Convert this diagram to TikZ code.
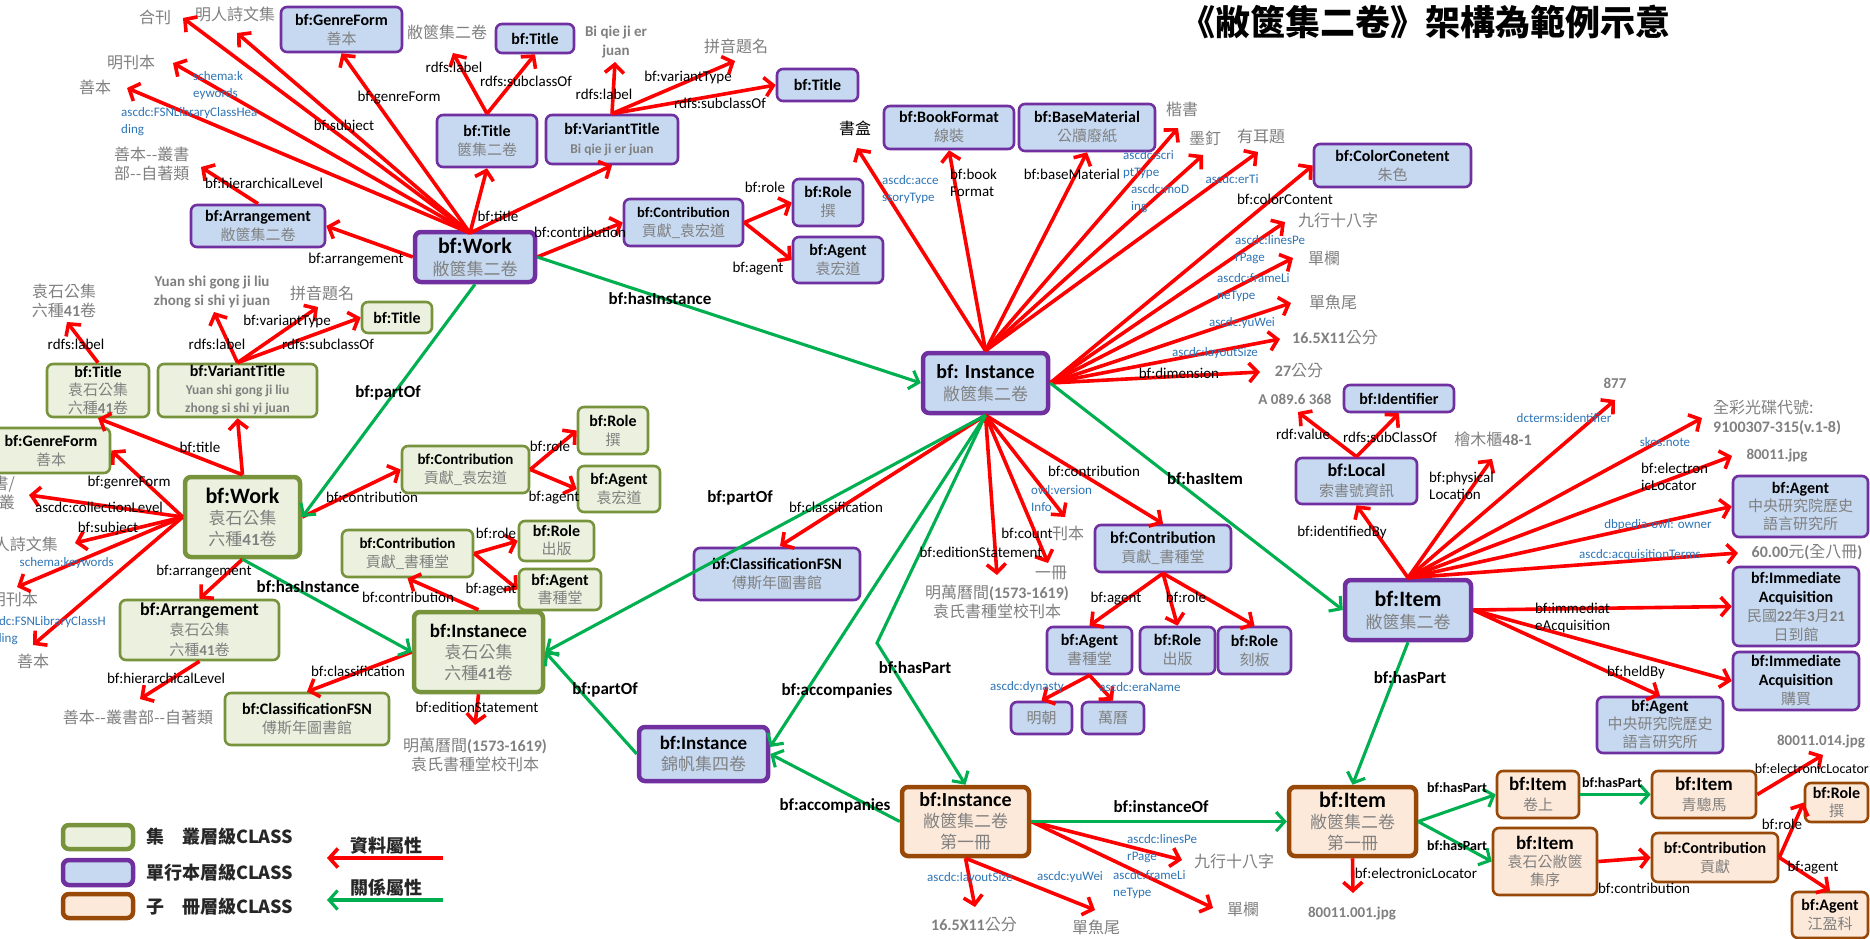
\documentclass[tikz,border=0pt]{standalone}
\usepackage{fontspec}
\setmainfont{Carlito}
\newfontfamily\cjk{Noto Sans CJK TC}
\usetikzlibrary{arrows.meta}
\definecolor{pborder}{HTML}{7030A0}
\definecolor{pfill}{HTML}{C6D9F1}
\definecolor{gborder}{HTML}{77933C}
\definecolor{gfill}{HTML}{EBF1DE}
\definecolor{oborder}{HTML}{984807}
\definecolor{ofill}{HTML}{FDE9D9}
\definecolor{rline}{HTML}{FF0000}
\definecolor{gline}{HTML}{00B050}
\definecolor{bltxt}{HTML}{2E75B6}
\definecolor{gval}{HTML}{808080}
\newcommand\fs[2]{\fontsize{#1}{#2}\selectfont}
\newcommand\lt[1]{{\normalfont\bfseries #1}}
\newcommand\vz[1]{{\cjk\mdseries\fs{15}{19}\color{gval}#1}}
\newcommand\vb[1]{{\cjk\mdseries\fs{17}{21}\color{gval}#1}}
\newcommand\vl[1]{{\normalfont\bfseries\fs{13.5}{19}\color{gval}#1}}
\begin{document}
\begin{tikzpicture}[x=1pt,y=-1pt,
  box/.style={rounded corners=6pt, inner sep=0pt, align=center, font=\bfseries\fs{16}{19}},
  pbox/.style={box, draw=pborder, fill=pfill, line width=2.6pt},
  gbox/.style={box, draw=gborder, fill=gfill, line width=2.6pt},
  obox/.style={box, draw=oborder, fill=ofill, line width=2.6pt},
  thickbox/.style={line width=4.5pt},
  bigf/.style={font=\bfseries\fs{22}{22}},
  ra/.style={draw=rline, line width=3.6pt, -{Straight Barb[length=8.5pt,width=19pt]}},
  ga/.style={draw=gline, line width=3.1pt, -{Straight Barb[length=8.5pt,width=19pt]}},
  lbl/.style={inner sep=0pt, font=\fs{15}{17}, text=black},
  rel/.style={inner sep=0pt, font=\bfseries\fs{17}{19}, text=black},
  srel/.style={inner sep=0pt, font=\bfseries\fs{14}{17}, text=black},
  blu/.style={inner sep=0pt, font=\fs{13}{17}, text=bltxt, align=left},
  gz/.style={inner sep=0pt, font=\cjk\fs{16}{19}, text=gval, align=center},
  gl/.style={inner sep=0pt, font=\bfseries\fs{15}{19}, text=gval, align=center},
]
\useasboundingbox (0,0) rectangle (1870,939);
\fill[white] (0,0) rectangle (1870,939);

% ---------- title ----------
\node[inner sep=0pt, font=\cjk\bfseries\fs{35}{40}] (title) at (1425,22) {《敝篋集二卷》架構為範例示意};

% ---------- purple boxes ----------
\node[pbox, minimum width=121pt, minimum height=45pt] (genre1) at (341.5,29.5) {bf:GenreForm\\\vz{善本}};
\node[pbox, minimum width=78pt, minimum height=29pt] (titleA) at (535,38.5) {bf:Title};
\node[pbox, minimum width=100pt, minimum height=52pt] (titleB) at (487,141) {bf:Title\\\vz{篋集二卷}};
\node[pbox, minimum width=132pt, minimum height=49pt] (vtitle1) at (612,139.5) {bf:VariantTitle\\\vl{Bi qie ji er juan}};
\node[pbox, minimum width=81pt, minimum height=32pt] (titleC) at (817.5,85) {bf:Title};
\node[pbox, minimum width=119pt, minimum height=47pt, font=\bfseries\fs{14.5}{19}] (contrib1) at (683.5,222.5) {bf:Contribution\\\vz{貢獻\_袁宏道}};
\node[pbox, minimum width=70pt, minimum height=47pt] (role1) at (828,202.5) {bf:Role\\\vz{撰}};
\node[pbox, minimum width=90pt, minimum height=46pt] (agent1) at (838,260) {bf:Agent\\\vz{袁宏道}};
\node[pbox, minimum width=134pt, minimum height=42pt] (arr1) at (258,226) {bf:Arrangement\\\vz{敝篋集二卷}};
\node[pbox, thickbox, bigf, minimum width=120pt, minimum height=50pt] (work1) at (475,257) {bf:Work\\\vb{敝篋集二卷}};
\node[pbox, minimum width=130pt, minimum height=43pt] (bookfmt) at (949,127.5) {bf:BookFormat\\\vz{線裝}};
\node[pbox, minimum width=136pt, minimum height=47pt] (basemat) at (1087,127.5) {bf:BaseMaterial\\\vz{公牘廢紙}};
\node[pbox, minimum width=157pt, minimum height=43pt] (color) at (1392.5,165.5) {bf:ColorConetent\\\vz{朱色}};
\node[pbox, thickbox, font=\bfseries\fs{20}{22}, minimum width=125pt, minimum height=60pt] (inst1) at (985.5,383) {bf: Instance\\\vb{敝篋集二卷}};
\node[pbox, minimum width=166pt, minimum height=52pt] (classfsn1) at (777,574) {bf:ClassificationFSN\\\vz{傅斯年圖書館}};
\node[pbox, minimum width=136pt, minimum height=47pt, font=\bfseries\fs{16.5}{19}] (contrib2) at (1163,548.5) {bf:Contribution\\\vz{貢獻\_書種堂}};
\node[pbox, minimum width=85pt, minimum height=47pt] (agent2) at (1089.5,650.5) {bf:Agent\\\vz{書種堂}};
\node[pbox, minimum width=75pt, minimum height=47pt] (role2) at (1177.5,650.5) {bf:Role\\\vz{出版}};
\node[pbox, minimum width=73pt, minimum height=47pt] (role3) at (1254.5,650.5) {bf:Role\\\vz{刻板}};
\node[pbox, minimum width=61pt, minimum height=32pt] (ming) at (1041.5,718) {\vz{明朝}};
\node[pbox, minimum width=62pt, minimum height=32pt] (wanli) at (1113,718) {\vz{萬曆}};
\node[pbox, thickbox, font=\bfseries\fs{19}{21}, minimum width=129pt, minimum height=54pt] (inst2) at (703.5,754) {bf:Instance\\\vb{錦帆集四卷}};
\node[pbox, minimum width=110pt, minimum height=27pt] (ident) at (1399,398.5) {bf:Identifier};
\node[pbox, minimum width=121pt, minimum height=46pt, font=\bfseries\fs{18}{20}] (local) at (1356.5,481) {bf:Local\\\vz{索書號資訊}};
\node[pbox, thickbox, bigf, minimum width=126pt, minimum height=60pt] (item1) at (1408,610) {bf:Item\\\vb{敝篋集二卷}};
\node[pbox, minimum width=135pt, minimum height=61pt, font=\bfseries\fs{16}{18}] (agent3) at (1800.5,506.5) {bf:Agent\\\vz{中央研究院歷史}\\\vz{語言研究所}};
\node[pbox, minimum width=126pt, minimum height=79pt, font=\bfseries\fs{16}{19}] (immacq1) at (1796,606.5) {bf:Immediate\\Acquisition\\\vz{民國\lt{22}年\lt{3}月\lt{21}}\\\vz{日到館}};
\node[pbox, minimum width=126pt, minimum height=58pt, font=\bfseries\fs{16}{19}] (immacq2) at (1796,681) {bf:Immediate\\Acquisition\\\vz{購買}};
\node[pbox, minimum width=126pt, minimum height=56pt, font=\bfseries\fs{16}{18}] (agent4) at (1660,725) {bf:Agent\\\vz{中央研究院歷史}\\\vz{語言研究所}};

% ---------- green boxes ----------
\node[gbox, thickbox, font=\bfseries\fs{22}{21}, minimum width=115pt, minimum height=80pt] (work2) at (242.5,517) {bf:Work\\\vb{袁石公集}\\\vb{六種\lt{41}卷}};
\node[gbox, minimum width=102pt, minimum height=53pt, font=\bfseries\fs{16}{18}] (title2) at (98,390.5) {bf:Title\\\vz{袁石公集}\\\vz{六種\lt{41}卷}};
\node[gbox, minimum width=159pt, minimum height=53pt, font=\bfseries\fs{16}{18}] (vtitle2) at (237.5,390.5) {bf:VariantTitle\\\vl{Yuan shi gong ji liu}\\\vl{zhong si shi yi juan}};
\node[gbox, minimum width=70pt, minimum height=31pt] (title3) at (397,317.5) {bf:Title};
\node[gbox, minimum width=118pt, minimum height=45pt] (genre2) at (51,450.5) {bf:GenreForm\\\vz{善本}};
\node[gbox, minimum width=127pt, minimum height=47pt, font=\bfseries\fs{15}{19}] (contrib3) at (465.5,469.5) {bf:Contribution\\\vz{貢獻\_袁宏道}};
\node[gbox, minimum width=70pt, minimum height=47pt] (role4) at (613,430.5) {bf:Role\\\vz{撰}};
\node[gbox, minimum width=82pt, minimum height=46pt] (agent5) at (619,489) {bf:Agent\\\vz{袁宏道}};
\node[gbox, minimum width=131pt, minimum height=47pt, font=\bfseries\fs{15}{19}] (contrib4) at (407.5,553.5) {bf:Contribution\\\vz{貢獻\_書種堂}};
\node[gbox, minimum width=75pt, minimum height=40pt, font=\bfseries\fs{16}{18}] (role5) at (556.5,541) {bf:Role\\\vz{出版}};
\node[gbox, minimum width=82pt, minimum height=41pt, font=\bfseries\fs{16}{18}] (agent6) at (560,589.5) {bf:Agent\\\vz{書種堂}};
\node[gbox, minimum width=159pt, minimum height=60pt, font=\bfseries\fs{18}{20}] (arr2) at (199.5,630) {bf:Arrangement\\\vz{袁石公集}\\\vz{六種\lt{41}卷}};
\node[gbox, thickbox, font=\bfseries\fs{19}{21}, minimum width=129pt, minimum height=80pt] (inst4) at (478.5,652) {bf:Instanece\\\vb{袁石公集}\\\vb{六種\lt{41}卷}};
\node[gbox, minimum width=164pt, minimum height=52pt] (classfsn2) at (307,719) {bf:ClassificationFSN\\\vz{傅斯年圖書館}};

% ---------- brown boxes ----------
\node[obox, thickbox, font=\bfseries\fs{20}{21}, minimum width=127pt, minimum height=69pt] (inst3) at (965.5,821.5) {bf:Instance\\\vb{敝篋集二卷}\\\vb{第一冊}};
\node[obox, thickbox, font=\bfseries\fs{22}{21}, minimum width=127pt, minimum height=69pt] (item2) at (1352.5,821.5) {bf:Item\\\vb{敝篋集二卷}\\\vb{第一冊}};
\node[obox, minimum width=82pt, minimum height=47pt, font=\bfseries\fs{19}{20}] (item3) at (1538,794.5) {bf:Item\\\vz{卷上}};
\node[obox, minimum width=104pt, minimum height=47pt, font=\bfseries\fs{19}{20}] (item4) at (1704,794.5) {bf:Item\\\vz{青驄馬}};
\node[obox, minimum width=104pt, minimum height=67pt, font=\bfseries\fs{19}{18}] (item5) at (1545,861.5) {bf:Item\\\vz{袁石公敝篋}\\\vz{集序}};
\node[obox, minimum width=126pt, minimum height=49pt] (contrib5) at (1715,857.5) {bf:Contribution\\\vz{貢獻}};
\node[obox, minimum width=63pt, minimum height=39pt, font=\bfseries\fs{16}{18}] (role6) at (1836.5,802.5) {bf:Role\\\vz{撰}};
\node[obox, minimum width=76pt, minimum height=46pt] (agent7) at (1830,915) {bf:Agent\\\vz{江盈科}};

% ---------- loose texts (values) ----------
\node[gz] (tHeKan) at (155,17) {合刊};
\node[gz] (tMingRen) at (235,14) {明人詩文集};
\node[gz] (tMingKan) at (131,62) {明刊本};
\node[gz] (tShanBen) at (95,87) {善本};
\node[gz, align=left, anchor=west] (tCongShu) at (114,164) {善本--叢書\\部--自著類};
\node[gz] (tBiqie) at (447,32) {敝篋集二卷};
\node[gl] (tBiqieEn) at (616,42) {Bi qie ji er\\juan};
\node[gz] (tPinyin) at (736,46) {拼音題名};
\node[gz, text=black] (tShuHe) at (855,128) {書盒};
\node[gz] (tKaiShu) at (1182,109) {楷書};
\node[gz] (tMoDing) at (1205,138) {墨釘};
\node[gz] (tYouEr) at (1261,136) {有耳題};
\node[gz] (tJiuHang) at (1338,220) {九行十八字};
\node[gz] (tDanLan) at (1324,258) {單欄};
\node[gz] (tDanYu) at (1333,302) {單魚尾};
\node[gz] (tSize) at (1335,338) {\lt{16.5X11}公分};
\node[gz] (tDim) at (1299,371) {\lt{27}公分};
\node[gz] (tKanBen) at (1068,533) {刊本};
\node[gz] (tYiCe) at (1051,573) {一冊};
\node[gz] (tEdition) at (997,602) {明萬曆間\lt{(1573-1619)}\\袁氏書種堂校刊本};
\node[gl] (tCallNo) at (1295,399) {A 089.6 368};
\node[gz] (tGuiMu) at (1493,439) {檜木櫃\lt{48-1}};
\node[gl] (t877) at (1615,383) {877};
\node[gz, align=left, anchor=west] (tCD) at (1713,417) {全彩光碟代號:\\\lt{9100307-315(v.1-8)}};
\node[gl] (tJpg) at (1777,456) {80011.jpg};
\node[gz] (tPrice) at (1807,552) {\lt{60.00}元\lt{(}全八冊\lt{)}};

\node[gz] (tYuanShi) at (64,301) {袁石公集\\六種\lt{41}卷};
\node[gl] (tYuanEn) at (212,292) {Yuan shi gong ji liu\\zhong si shi yi juan};
\node[gz] (tPinyin2) at (322,293) {拼音題名};
\node[gz, anchor=east, align=right] (tShuCong) at (15,493) {書/\\叢};
\node[gz, anchor=east] (tMingRen2) at (58,544) {明人詩文集};
\node[gz, anchor=east] (tMingKan2) at (38,599) {明刊本};
\node[gz] (tShanBen2) at (33,661) {善本};
\node[gz] (tCongShu2) at (138,717) {善本--叢書部--自著類};
\node[gz] (tEdition2) at (475,755) {明萬曆間\lt{(1573-1619)}\\袁氏書種堂校刊本};

\node[gz] (tJiuHang2) at (1234,861) {九行十八字};
\node[gz] (tDanLan2) at (1243,909) {單欄};
\node[gz] (tSize2) at (974,925) {\lt{16.5X11}公分};
\node[gz] (tDanYu2) at (1096,927) {單魚尾};
\node[gl] (tJpg2) at (1352,913) {80011.001.jpg};
\node[gl] (tJpg3) at (1821,741) {80011.014.jpg};

% ---------- arrow tip coordinates ----------
\coordinate (w1s) at (470,233);
\coordinate (hkT) at (183,18);
\coordinate (mrT) at (237,33);
\coordinate (mkT) at (173,63);
\coordinate (sbT) at (127,88);
\coordinate (hlT) at (201,167);
\coordinate (tbT) at (453,53);
\coordinate (bqT) at (615,62);
\coordinate (pyT) at (735,61);
\coordinate (shT) at (857,148);
\coordinate (ksT) at (1178,128);
\coordinate (mdT) at (1203,155);
\coordinate (yeT) at (1258,152);
\coordinate (jhT) at (1285,222);
\coordinate (dlT) at (1293,258);
\coordinate (dyT) at (1291,303);
\coordinate (szT) at (1280,339);
\coordinate (cmT) at (1260,372);
\coordinate (kbT) at (1065,517);
\coordinate (ycT) at (1048,563);
\coordinate (edT) at (997,575);
\coordinate (avT) at (1298,412);
\coordinate (hmT) at (1492,459);
\coordinate (idT) at (1615,400);
\coordinate (qcT) at (1702,418);
\coordinate (jpT) at (1732,456);
\coordinate (acT) at (1738,553);
\coordinate (jh2T) at (1182,860);
\coordinate (dl2T) at (1213,908);
\coordinate (sz2T) at (975,907);
\coordinate (dy2T) at (1095,910);
\coordinate (elT) at (1353,893);
\coordinate (el2T) at (1823,755);
\coordinate (clT) at (29,495);
\coordinate (sjT) at (75,543);
\coordinate (kwT) at (17,587);
\coordinate (fsT) at (33,645);
\coordinate (ysT) at (67,322);
\coordinate (ysvT) at (214,312);
\coordinate (py2T) at (318,307);
\coordinate (hl2T) at (140,699);
\coordinate (ed2T) at (475,725);
\coordinate (hpBend) at (877,643);
\coordinate (clsT) at (780,546);
\coordinate (i2in) at (770,747);

% ---------- red arrows: Work1 ----------
\draw[ra] (w1s) -- (hkT);
\draw[ra] (w1s) -- (mrT);
\draw[ra] (w1s) -- (mkT);
\draw[ra] (w1s) -- (sbT);
\draw[ra] (w1s) -- (genre1.south);
\draw[ra] (w1s) -- (titleB.south);
\draw[ra] (w1s) -- (vtitle1.south);
\draw[ra] (work1.west) -- (arr1.east);
\draw[ra] (arr1.north) -- (hlT);
\draw[ra] (titleB.north) -- (tbT);
\draw[ra] (titleB.north) -- (titleA.south);
\draw[ra] (vtitle1.north) -- (bqT);
\draw[ra] (vtitle1.north) -- (pyT);
\draw[ra] (vtitle1.north) -- (titleC.west);
\draw[ra] (work1.east) -- (contrib1.west);
\draw[ra] (contrib1.east) -- (role1.west);
\draw[ra] (contrib1.east) -- (agent1.west);

% ---------- red arrows: Instance1 ----------
\draw[ra] (inst1.north) -- (shT);
\draw[ra] (inst1.north) -- (bookfmt.south);
\draw[ra] (inst1.north) -- (basemat.south);
\draw[ra] (inst1.north) -- (ksT);
\draw[ra] (inst1.north) -- (mdT);
\draw[ra] (inst1.north) -- (yeT);
\draw[ra] (inst1.east) -- (color.west);
\draw[ra] (inst1.east) -- (jhT);
\draw[ra] (inst1.east) -- (dlT);
\draw[ra] (inst1.east) -- (dyT);
\draw[ra] (inst1.east) -- (szT);
\draw[ra] (inst1.east) -- (cmT);
\draw[ra] (inst1.south) -- (clsT);
\draw[ra] (inst1.south) -- (contrib2.north);
\draw[ra] (inst1.south) -- (kbT);
\draw[ra] (inst1.south) -- (ycT);
\draw[ra] (inst1.south) -- (edT);
\draw[ra] (contrib2.south) -- (agent2.north);
\draw[ra] (contrib2.south) -- (role2.north);
\draw[ra] (contrib2.south) -- (role3.north);
\draw[ra] (agent2.south) -- (ming.north);
\draw[ra] (agent2.south) -- (wanli.north);

% ---------- red arrows: Item1 ----------
\draw[ra] (item1.north) -- (local.south);
\draw[ra] (local.north) -- (avT);
\draw[ra] (local.north) -- (ident.south);
\draw[ra] (item1.north) -- (hmT);
\draw[ra] (item1.north) -- (idT);
\draw[ra] (item1.north) -- (qcT);
\draw[ra] (item1.north) -- (jpT);
\draw[ra] (item1.north) -- (agent3.west);
\draw[ra] (item1.north) -- (acT);
\draw[ra] (item1.east) -- (immacq1.west);
\draw[ra] (item1.east) -- (immacq2.west);
\draw[ra] (item1.east) -- (agent4.north);

% ---------- red arrows: Instance3 / Item2 ----------
\draw[ra] (inst3.east) -- (jh2T);
\draw[ra] (inst3.east) -- (dl2T);
\draw[ra] (inst3.south) -- (sz2T);
\draw[ra] (inst3.south) -- (dy2T);
\draw[ra] (item2.south) -- (elT);
\draw[ra] (item5.east) -- (contrib5.west);
\draw[ra] (contrib5.east) -- (role6.west);
\draw[ra] (contrib5.east) -- (agent7.north);
\draw[ra] (item4.east) -- (el2T);

% ---------- red arrows: Work2 ----------
\draw[ra] (work2.north) -- (title2.south);
\draw[ra] (work2.north) -- (vtitle2.south);
\draw[ra] (work2.west) -- (genre2.east);
\draw[ra] (work2.west) -- (clT);
\draw[ra] (work2.west) -- (sjT);
\draw[ra] (work2.west) -- (kwT);
\draw[ra] (work2.west) -- (fsT);
\draw[ra] (work2.east) -- (contrib3.west);
\draw[ra] (work2.south) -- (arr2.north);
\draw[ra] (title2.north) -- (ysT);
\draw[ra] (vtitle2.north) -- (ysvT);
\draw[ra] (vtitle2.north) -- (py2T);
\draw[ra] (vtitle2.north) -- (title3.west);
\draw[ra] (contrib3.east) -- (role4.west);
\draw[ra] (contrib3.east) -- (agent5.west);
\draw[ra] (inst4.north) -- (contrib4.south);
\draw[ra] (contrib4.east) -- (role5.west);
\draw[ra] (contrib4.east) -- (agent6.west);
\draw[ra] (arr2.south) -- (hl2T);
\draw[ra] (inst4.west) -- (classfsn2.north);
\draw[ra] (inst4.south) -- (ed2T);

% ---------- green arrows ----------
\draw[ga] (work1.east) -- (inst1.west);
\draw[ga] (work1.south) -- (work2.east);
\draw[ga] (work2.south) -- (inst4.west);
\draw[ga] (inst1.south) -- (inst4.east);
\draw[ga] (inst1.south) -- (i2in);
\draw[ga] (inst1.south) -- (hpBend) -- (inst3.north);
\draw[ga] (inst1.east) -- (item1.west);
\draw[ga] (inst2.west) -- (inst4.east);
\draw[ga] (inst3.west) -- (inst2.east);
\draw[ga] (inst3.east) -- (item2.west);
\draw[ga] (item1.south) -- (item2.north);
\draw[ga] (item2.east) -- (item3.west);
\draw[ga] (item2.east) -- (item5.west);
\draw[ga] (item3.east) -- (item4.west);

% ---------- labels (black) ----------
\node[lbl] (l1) at (399,98) {bf:genreForm};
\node[lbl] (l2) at (344,127) {bf:subject};
\node[lbl] (l3) at (264,183) {bf:hierarchicalLevel};
\node[lbl] (l4) at (356,260) {bf:arrangement};
\node[lbl] (l5) at (454,67) {rdfs:label};
\node[lbl] (l6) at (526,81) {rdfs:subclassOf};
\node[lbl] (l7) at (604,94) {rdfs:label};
\node[lbl] (l8) at (688,78) {bf:variantType};
\node[lbl] (l9) at (720,103) {rdfs:subclassOf};
\node[lbl] (l10) at (498,216) {bf:title};
\node[lbl] (l11) at (580,232) {bf:contribution};
\node[lbl] (l12) at (765,187) {bf:role};
\node[lbl] (l13) at (758,269) {bf:agent};
\node[lbl, align=left, anchor=west] (l14) at (950,183) {bf:book\\Format};
\node[lbl] (l15) at (1072,174) {bf:baseMaterial};
\node[lbl] (l16) at (1285,199) {bf:colorContent};
\node[lbl] (l17) at (1179,373) {bf:dimension};
\node[lbl] (l18) at (1094,471) {bf:contribution};
\node[lbl] (l19) at (1027,533) {bf:count};
\node[lbl] (l20) at (981,552) {bf:editionStatement};
\node[lbl] (l21) at (836,507) {bf:classification};
\node[lbl] (l22) at (1116,599) {bf:agent};
\node[lbl] (l23) at (1186,597) {bf:role};
\node[lbl] (l24) at (1303,434) {rdf:value};
\node[lbl] (l25) at (1390,437) {rdfs:subClassOf};
\node[lbl] (l26) at (1342,532) {bf:identifiedBy};
\node[lbl, align=left, anchor=west] (l27) at (1429,486) {bf:physical\\Location};
\node[lbl, align=left, anchor=west] (l28) at (1641,477) {bf:electron\\icLocator};
\node[lbl, align=left, anchor=west] (l29) at (1535,618) {bf:immediat\\eAcquisition};
\node[lbl] (l30) at (1636,672) {bf:heldBy};
\node[lbl] (l31) at (1416,873) {bf:electronicLocator};
\node[lbl] (l32) at (1644,888) {bf:contribution};
\node[lbl] (l33) at (1782,824) {bf:role};
\node[lbl] (l34) at (1813,868) {bf:agent};
\node[lbl, anchor=east, font=\fs{14}{17}] (l35) at (1869,769) {bf:electronicLocator};
\node[lbl] (l36) at (76,344) {rdfs:label};
\node[lbl] (l37) at (217,344) {rdfs:label};
\node[lbl] (l38) at (287,321) {bf:variantType};
\node[lbl] (l39) at (328,344) {rdfs:subclassOf};
\node[lbl] (l40) at (200,447) {bf:title};
\node[lbl] (l41) at (129,483) {bf:genreForm};
\node[lbl] (l42) at (99,507) {ascdc:collectionLevel};
\node[lbl] (l43) at (108,529) {bf:subject};
\node[lbl] (l44) at (372,497) {bf:contribution};
\node[lbl] (l45) at (550,446) {bf:role};
\node[lbl] (l46) at (554,498) {bf:agent};
\node[lbl] (l47) at (496,533) {bf:role};
\node[lbl] (l48) at (491,590) {bf:agent};
\node[lbl] (l49) at (408,597) {bf:contribution};
\node[lbl] (l50) at (204,572) {bf:arrangement};
\node[lbl] (l51) at (166,678) {bf:hierarchicalLevel};
\node[lbl] (l52) at (358,671) {bf:classification};
\node[lbl] (l53) at (477,707) {bf:editionStatement};

% ---------- labels (bold relations) ----------
\node[rel] (r1) at (660,299) {bf:hasInstance};
\node[rel] (r2) at (388,393) {bf:partOf};
\node[rel] (r3) at (308,587) {bf:hasInstance};
\node[rel] (r4) at (740,498) {bf:partOf};
\node[rel] (r5) at (1205,479) {bf:hasItem};
\node[rel] (r6) at (605,690) {bf:partOf};
\node[rel] (r7) at (837,691) {bf:accompanies};
\node[rel] (r8) at (915,668) {bf:hasPart};
\node[rel] (r9) at (835,806) {bf:accompanies};
\node[rel] (r10) at (1161,807) {bf:instanceOf};
\node[rel] (r11) at (1410,678) {bf:hasPart};
\node[srel] (r12) at (1457,788) {bf:hasPart};
\node[srel] (r13) at (1457,846) {bf:hasPart};
\node[srel] (r14) at (1612,783) {bf:hasPart};

% ---------- labels (blue) ----------
\node[blu, anchor=west] (b1) at (193,86) {schema:k\\eywords};
\node[blu, anchor=west] (b2) at (121,122) {ascdc:FSNLibraryClassHea\\ding};
\node[blu, anchor=west] (b3) at (882,190) {ascdc:acce\\ssoryType};
\node[blu, anchor=west] (b4) at (1123,165) {ascdc:scri\\ptType};
\node[blu, anchor=west] (b5) at (1131,199) {ascdc:moD\\ing};
\node[blu] (b6) at (1232,179) {ascdc:erTi};
\node[blu, anchor=west] (b7) at (1235,250) {ascdc:linesPe\\rPage};
\node[blu, anchor=west] (b8) at (1217,288) {ascdc:frameLi\\neType};
\node[blu] (b9) at (1242,323) {ascdc:yuWei};
\node[blu] (b10) at (1215,353) {ascdc:layoutSize};
\node[blu, anchor=west] (b11) at (1031,499) {owl:version\\Info};
\node[blu] (b12) at (1027,687) {ascdc:dynasty};
\node[blu] (b13) at (1140,687) {ascdc:eraName};
\node[blu] (b14) at (1564,418) {dcterms:identifier};
\node[blu] (b15) at (1665,442) {skos:note};
\node[blu] (b16) at (1658,525) {dbpedia-owl: owner};
\node[blu] (b17) at (1640,555) {ascdc:acquisitionTerms};
\node[blu, anchor=east] (b18) at (114,563) {schema:keywords};
\node[blu, anchor=west] (b19) at (-18,631) {ascdc:FSNLibraryClassH\\eading};
\node[blu, anchor=west] (b20) at (1127,849) {ascdc:linesPe\\rPage};
\node[blu, anchor=west] (b21) at (1113,885) {ascdc:frameLi\\neType};
\node[blu] (b22) at (970,878) {ascdc:layoutSize};
\node[blu] (b23) at (1070,877) {ascdc:yuWei};

% ---------- legend ----------
\node[gbox, thickbox, minimum width=70pt, minimum height=24pt] (lg1) at (98,837) {};
\node[pbox, thickbox, minimum width=70pt, minimum height=25pt] (lg2) at (98,872.5) {};
\node[obox, thickbox, minimum width=70pt, minimum height=24pt] (lg3) at (98,906) {};
\node[anchor=west, inner sep=0pt, font=\cjk\bfseries\fs{18}{20}, text=black!85] (lgt1) at (146,837) {集　叢層級CLASS};
\node[anchor=west, inner sep=0pt, font=\cjk\bfseries\fs{18}{20}, text=black!85] (lgt2) at (146,873) {單行本層級CLASS};
\node[anchor=west, inner sep=0pt, font=\cjk\bfseries\fs{18}{20}, text=black!85] (lgt3) at (146,907) {子　冊層級CLASS};
\node[inner sep=0pt, font=\cjk\bfseries\fs{18}{20}, text=black!85] (lgr) at (386,846) {資料屬性};
\node[inner sep=0pt, font=\cjk\bfseries\fs{18}{20}, text=black!85] (lgg) at (386,888) {關係屬性};
\coordinate (lgra) at (443,858);
\coordinate (lgrb) at (327,858);
\coordinate (lgga) at (443,900);
\coordinate (lggb) at (327,900);
\draw[ra] (lgra) -- (lgrb);
\draw[ga] (lgga) -- (lggb);
\end{tikzpicture}
\end{document}
